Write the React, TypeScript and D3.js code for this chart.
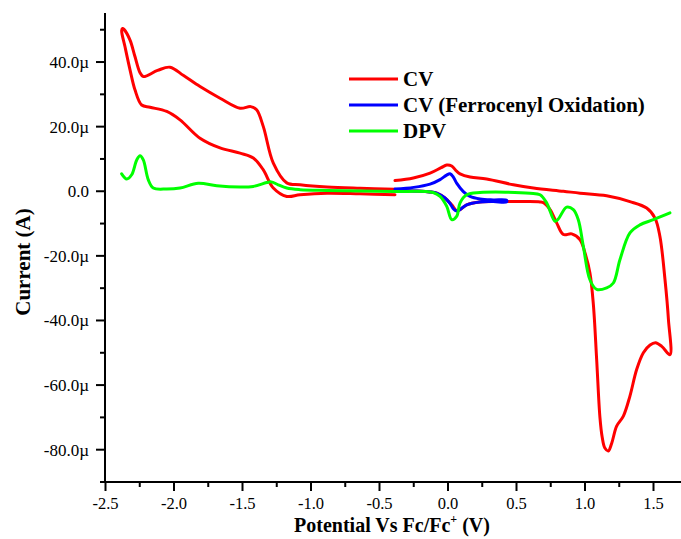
import React from 'react';
import * as d3 from 'd3';

// Potential (V vs Fc/Fc+) and current (µA) pairs for each trace.
const cvCathodicScan: [number, number][] = [
  [-0.387, 0.6], [-0.642, 0.9], [-0.883, 1.3], [-1.08, 2.0], [-1.177, 2.6],
  [-1.275, 8.7], [-1.348, 20.0], [-1.397, 25.2], [-1.44, 26.2], [-1.518, 25.7],
  [-1.664, 28.8], [-1.81, 32.4], [-1.93, 35.8], [-2.029, 38.4], [-2.12, 37.4],
  [-2.224, 35.5], [-2.248, 36.7], [-2.285, 41.7], [-2.321, 46.8], [-2.365, 50.1],
  [-2.376, 50.4], [-2.382, 49.7], [-2.358, 44.8], [-2.321, 37.6], [-2.285, 31.4],
  [-2.236, 26.7], [-2.175, 26.0], [-2.053, 24.7], [-1.956, 22.1], [-1.81, 16.4],
  [-1.664, 13.4], [-1.518, 11.8], [-1.421, 10.3], [-1.348, 6.6], [-1.275, 1.0],
  [-1.177, -1.6], [-1.08, -1.1], [-0.883, -0.6], [-0.642, -0.8], [-0.387, -1.1],
];

const cvAnodicScan: [number, number][] = [
  [-0.387, 3.3], [-0.253, 4.1], [-0.131, 5.6], [-0.05, 7.3], [-0.009, 8.1],
  [0.027, 7.8], [0.063, 6.2], [0.088, 5.4], [0.161, 4.4], [0.282, 3.8],
  [0.477, 2.0], [0.623, 1.0], [0.842, 0.0], [0.964, -0.6], [1.158, -1.4],
  [1.328, -3.2], [1.45, -5.2], [1.511, -8.3], [1.547, -14.0], [1.584, -27.4],
  [1.609, -39.7], [1.62, -50.6], [1.56, -48.0], [1.515, -46.9], [1.475, -47.6],
  [1.426, -50.0], [1.377, -55.2], [1.328, -63.4], [1.28, -69.6], [1.231, -72.7],
  [1.195, -78.0], [1.17, -80.4], [1.145, -79.5], [1.125, -76.0], [1.109, -70.0],
  [1.085, -52.0], [1.061, -35.0], [1.036, -25.3], [1.0, -19.1], [0.964, -15.0],
  [0.903, -13.2], [0.842, -13.4], [0.793, -9.8], [0.745, -5.7], [0.7, -3.6],
  [0.672, -3.3], [0.55, -3.2], [0.428, -3.2], [0.234, -3.3], [0.136, -4.2],
  [0.088, -5.7], [0.063, -6.0], [0.027, -4.2], [-0.022, -2.1], [-0.082, -0.6],
  [-0.131, -0.2], [-0.387, 0.2],
];

const ferrocenylCv: [number, number][] = [
  [-0.387, 0.7], [-0.25, 1.2], [-0.131, 2.2], [-0.058, 3.6], [-0.01, 5.0],
  [0.015, 5.4], [0.04, 4.3], [0.063, 2.5], [0.112, -0.1], [0.161, -1.6],
  [0.234, -2.4], [0.33, -2.7], [0.428, -2.8], [0.428, -3.3], [0.33, -3.2],
  [0.234, -3.3], [0.136, -4.2], [0.088, -5.7], [0.063, -6.1], [0.04, -5.5],
  [0.015, -3.8], [-0.022, -2.1], [-0.082, -0.6], [-0.131, -0.2], [-0.25, 0.1],
  [-0.387, 0.3],
];

const dpvScan: [number, number][] = [
  [-2.382, 5.4], [-2.345, 3.8], [-2.309, 5.1], [-2.272, 9.7], [-2.248, 11.0],
  [-2.224, 9.7], [-2.188, 3.6], [-2.151, 1.0], [-2.053, 0.7], [-1.956, 1.0],
  [-1.823, 2.5], [-1.688, 1.7], [-1.518, 1.3], [-1.421, 1.5], [-1.323, 2.7],
  [-1.29, 2.9], [-1.24, 2.0], [-1.177, 1.0], [-1.08, 0.5], [-0.883, 0.25],
  [-0.4, -0.05], [-0.109, -0.4], [-0.058, -1.6], [-0.009, -4.7], [0.027, -8.8],
  [0.063, -7.8], [0.088, -3.6], [0.136, -1.1], [0.234, -0.4], [0.599, -0.6],
  [0.672, -1.1], [0.72, -3.6], [0.781, -9.3], [0.805, -8.6], [0.866, -4.9],
  [0.915, -5.7], [0.951, -8.8], [0.988, -17.1], [1.036, -27.4], [1.085, -30.4],
  [1.158, -29.9], [1.207, -28.4], [1.255, -21.2], [1.328, -12.9], [1.401, -10.4],
  [1.499, -8.8], [1.62, -6.7],
];

const xMajorTicks = [-2.5, -2.0, -1.5, -1.0, -0.5, 0.0, 0.5, 1.0, 1.5];
const yMajorTicks = [40, 20, 0, -20, -40, -60, -80];
const yTickLabels = ['40.0µ', '20.0µ', '0.0', '-20.0µ', '-40.0µ', '-60.0µ', '-80.0µ'];

const legendEntries = [
  { label: 'CV', color: '#ff0000' },
  { label: 'CV (Ferrocenyl Oxidation)', color: '#0000ff' },
  { label: 'DPV', color: '#00ff00' },
];

const W = 681;
const H = 539;
const FONT = '"Liberation Serif", "Times New Roman", serif';

export default function App() {
  const x = d3.scaleLinear().domain([-2.5, 1.75]).range([105.5, 448 + 1.75 * 137]);
  const y = d3.scaleLinear().domain([-90, 55]).range([482, 191.5 - 55 * 3.235]);

  const line = d3
    .line<[number, number]>()
    .x((d) => x(d[0]))
    .y((d) => y(d[1]))
    .curve(d3.curveCatmullRom.alpha(0.5));

  const xMinor = d3.range(-2.5, 1.76, 0.25).filter((v) => !xMajorTicks.some((m) => Math.abs(m - v) < 1e-6));
  const yMinor = d3.range(-90, 55, 10).filter((v) => Math.abs(v % 20) > 1e-6 && v > -90);

  const axisY = 482;
  const axisX = 105;

  return (
    <svg
      width={W}
      height={H}
      style={{ position: 'absolute', left: 0, top: 0, background: '#fff' }}
      fontFamily={FONT}
    >
      <rect width={W} height={H} fill="#fff" />

      {/* traces */}
      <g fill="none" strokeWidth={3} strokeLinejoin="round" strokeLinecap="round">
        <path d={line(cvCathodicScan) ?? ''} stroke="#ff0000" />
        <path d={line(cvAnodicScan) ?? ''} stroke="#ff0000" />
        <path d={line(ferrocenylCv) ?? ''} stroke="#0000ff" />
        <path d={line(dpvScan) ?? ''} stroke="#00ff00" />
      </g>

      {/* y axis */}
      <line x1={axisX} x2={axisX} y1={13} y2={axisY + 1} stroke="#000" strokeWidth={2} />
      {yMajorTicks.map((v, i) => (
        <g key={`ym${v}`}>
          <line x1={axisX - 9} x2={axisX} y1={y(v)} y2={y(v)} stroke="#000" strokeWidth={2} />
          <text x={89} y={y(v)} dy="0.35em" textAnchor="end" fontSize={17} fill="#000">
            {yTickLabels[i]}
          </text>
        </g>
      ))}
      {yMinor.map((v) => (
        <line key={`yn${v}`} x1={axisX - 5} x2={axisX} y1={y(v)} y2={y(v)} stroke="#000" strokeWidth={2} />
      ))}

      {/* x axis */}
      <line x1={100} x2={W} y1={axisY} y2={axisY} stroke="#000" strokeWidth={2} />
      {xMajorTicks.map((v) => (
        <g key={`xm${v}`}>
          <line x1={x(v)} x2={x(v)} y1={axisY} y2={axisY + 9} stroke="#000" strokeWidth={2} />
          <text x={x(v)} y={509} textAnchor="middle" fontSize={16.5} fill="#000">
            {v.toFixed(1)}
          </text>
        </g>
      ))}
      {xMinor.map((v) => (
        <line key={`xn${v}`} x1={x(v)} x2={x(v)} y1={axisY} y2={axisY + 5} stroke="#000" strokeWidth={2} />
      ))}

      {/* axis titles */}
      <text x={392} y={532} textAnchor="middle" fontSize={20} fontWeight="bold" fill="#000">
        Potential Vs Fc/Fc
        <tspan fontSize={12} dy={-9}>+</tspan>
        <tspan dy={9}> (V)</tspan>
      </text>
      <text
        transform="translate(30,262) rotate(-90)"
        textAnchor="middle"
        fontSize={21}
        fontWeight="bold"
        fill="#000"
      >
        Current (A)
      </text>

      {/* legend */}
      {legendEntries.map((e, i) => (
        <g key={e.label} transform={`translate(0, ${79 + i * 26})`}>
          <line x1={349} x2={398} y1={0} y2={0} stroke={e.color} strokeWidth={3} />
          <text x={403} y={0} dy="0.35em" fontSize={21} fontWeight="bold" fill="#000">
            {e.label}
          </text>
        </g>
      ))}
    </svg>
  );
}
